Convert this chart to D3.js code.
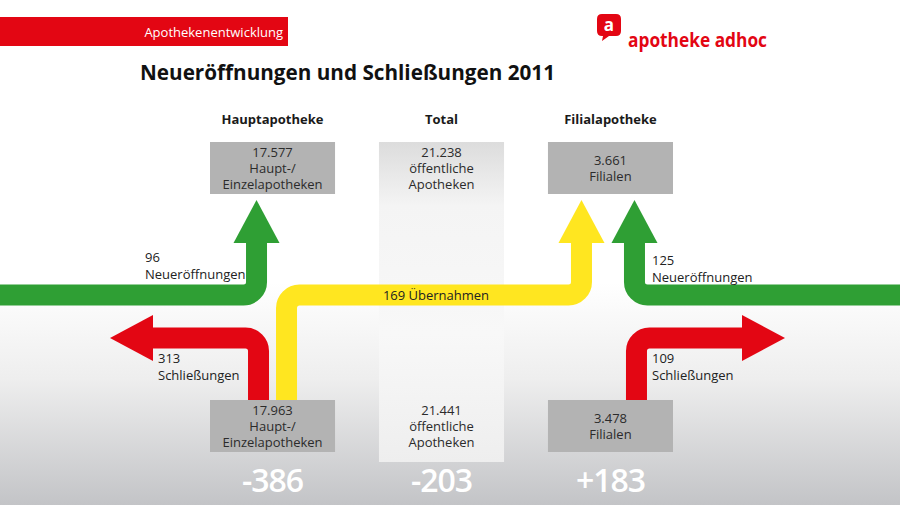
<!DOCTYPE html>
<html>
<head>
<meta charset="utf-8">
<script src="https://cdn.jsdelivr.net/npm/d3@7"></script>
<style>
  body { margin: 0; background: #fff; }
  svg { display: block; font-family: "Open Sans", sans-serif; }
</style>
</head>
<body>
<svg id="chart" width="900" height="505"></svg>
<script>
// data
let columns = ["Hauptapotheke", "Total", "Filialapotheke"];
let startCounts = [17963, 21441, 3478];   // bottom boxes
let endCounts = [17577, 21238, 3661];     // top boxes
let unitLabels = [["Haupt-/", "Einzelapotheken"], ["öffentliche", "Apotheken"], ["Filialen"]];
let flowNames = ["Neueröffnungen", "Schließungen", "Übernahmen", "Neueröffnungen", "Schließungen"];
let flowValues = [96, 313, 169, 125, 109];
let flowKinds = ["open", "close", "takeover", "open", "close"];

let width = 900;
let height = 505;

let de = d3.formatLocale({decimal: ",", thousands: ".", grouping: [3], currency: ["", " €"], minus: "-"});
let fmt = de.format(",d");
let fmtDiff = de.format("+d");

let colors = {open: "#2f9f34", close: "#e30613", takeover: "#ffe620"};

let x = d3.scaleBand()
    .domain(columns)
    .range([210, 673])
    .paddingInner(0.26)
    .paddingOuter(0);

let svg = d3.select("#chart");
let defs = svg.append("defs");

let bg = defs.append("linearGradient").attr("id", "bg")
    .attr("x1", 0).attr("y1", 0).attr("x2", 0).attr("y2", 1);
bg.append("stop").attr("offset", 0.56).attr("stop-color", "#ffffff");
bg.append("stop").attr("offset", 0.75).attr("stop-color", "#eeeeee");
bg.append("stop").attr("offset", 1).attr("stop-color", "#c3c4c7");

let colGrad = defs.append("linearGradient").attr("id", "colgrad")
    .attr("x1", 0).attr("y1", 0).attr("x2", 0).attr("y2", 1);
colGrad.append("stop").attr("offset", 0).attr("stop-color", "#dcdcdc");
colGrad.append("stop").attr("offset", 0.2).attr("stop-color", "#f4f4f4");
colGrad.append("stop").attr("offset", 0.6).attr("stop-color", "#f8f8f8");
colGrad.append("stop").attr("offset", 1).attr("stop-color", "#eeeeee");

svg.append("rect").attr("width", width).attr("height", height).attr("fill", "url(#bg)");

// header
svg.append("rect").attr("x", 0).attr("y", 17).attr("width", 288).attr("height", 29).attr("fill", "#e30613");
svg.append("text").attr("x", 283).attr("y", 37).attr("text-anchor", "end")
    .attr("fill", "#fff").attr("font-size", 13).text("Apothekenentwicklung");

// logo
let logo = svg.append("g").attr("transform", "translate(597,14)");
logo.append("path")
    .attr("d", "M5,0 H19 Q24,0 24,5 V17 Q24,22 19,22 H12 L5,27 L6,22 H5 Q0,22 0,17 V5 Q0,0 5,0 Z")
    .attr("fill", "#e30613");
logo.append("text").attr("x", 12).attr("y", 17).attr("text-anchor", "middle")
    .attr("fill", "#fff").attr("font-size", 17).attr("font-weight", 700).text("a");
svg.append("text").attr("x", 628).attr("y", 47)
    .attr("fill", "#e30613").attr("font-size", 19).attr("font-weight", 700)
    .attr("textLength", 139).attr("lengthAdjust", "spacingAndGlyphs")
    .text("apotheke adhoc");

// title
svg.append("text").attr("x", 140).attr("y", 80)
    .attr("fill", "#111").attr("font-size", 22).attr("font-weight", 700)
    .attr("textLength", 415).attr("lengthAdjust", "spacingAndGlyphs")
    .text("Neueröffnungen und Schließungen 2011");

// total column
svg.append("rect")
    .attr("x", x("Total")).attr("y", 142)
    .attr("width", x.bandwidth()).attr("height", 320)
    .attr("fill", "url(#colgrad)");

// column headers
svg.selectAll(".colhead").data(columns).join("text")
    .attr("class", "colhead")
    .attr("x", d => x(d) + x.bandwidth() / 2)
    .attr("y", 124)
    .attr("text-anchor", "middle")
    .attr("font-size", 13).attr("font-weight", 700).attr("fill", "#1a1a1a")
    .text(d => d);

// boxes
function drawBoxes(counts, y0, cls) {
    let g = svg.selectAll("." + cls).data(columns).join("g")
        .attr("class", cls)
        .attr("transform", d => `translate(${x(d)},${y0})`);
    g.filter(d => d != "Total").append("rect")
        .attr("width", x.bandwidth()).attr("height", 52)
        .attr("fill", "#b3b3b3");
    g.each(function(d, i) {
        let lines = [fmt(counts[i])].concat(unitLabels[i]);
        let top = 26 - (lines.length - 1) * 8 + 5;
        d3.select(this).selectAll("text").data(lines).join("text")
            .attr("x", x.bandwidth() / 2)
            .attr("y", (l, j) => top + j * 16)
            .attr("text-anchor", "middle")
            .attr("font-size", 13).attr("fill", "#2b2b2b")
            .text(l => l);
    });
}
drawBoxes(endCounts, 142, "topbox");
drawBoxes(startCounts, 400, "botbox");

// arrows
let cH = x("Hauptapotheke") + x.bandwidth() / 2;
let cF = x("Filialapotheke") + x.bandwidth() / 2;
let routes = [
    [[0, 295], [cH - 16, 295], [cH - 16, 243]],
    [[cH - 14, 400], [cH - 14, 338], [153, 338]],
    [[cH + 14, 400], [cH + 14, 295], [cF - 29, 295], [cF - 29, 243]],
    [[width, 295], [cF + 24, 295], [cF + 24, 243]],
    [[cF + 26, 400], [cF + 26, 338], [742, 338]]
];
let headLen = 43, headHalf = 23, bandW = 21;

function routePath(pts) {
    let p = d3.path();
    p.moveTo(pts[0][0], pts[0][1]);
    for (let i = 1; i < pts.length - 1; i++) {
        p.arcTo(pts[i][0], pts[i][1], pts[i + 1][0], pts[i + 1][1], 13);
    }
    let last = pts[pts.length - 1];
    p.lineTo(last[0], last[1]);
    return p.toString();
}

function headPath(pts) {
    let a = pts[pts.length - 2], b = pts[pts.length - 1];
    let dx = Math.sign(b[0] - a[0]), dy = Math.sign(b[1] - a[1]);
    let tip = [b[0] + dx * headLen, b[1] + dy * headLen];
    let l = [b[0] - dy * headHalf, b[1] + dx * headHalf];
    let r = [b[0] + dy * headHalf, b[1] - dx * headHalf];
    return `M${l}L${tip}L${r}Z`;
}

let arrows = svg.selectAll(".arrow").data(flowValues).join("g").attr("class", "arrow");
arrows.append("path")
    .attr("d", (d, i) => routePath(routes[i]))
    .attr("fill", "none")
    .attr("stroke", (d, i) => colors[flowKinds[i]])
    .attr("stroke-width", bandW);
arrows.append("path")
    .attr("d", (d, i) => headPath(routes[i]))
    .attr("fill", (d, i) => colors[flowKinds[i]]);

// flow labels
let labelPos = [[145, 262], [158, 363], [436, 300], [652, 265], [652, 363]];
flowValues.forEach((v, i) => {
    let t = svg.append("text")
        .attr("font-size", 13).attr("fill", "#222");
    if (flowKinds[i] == "takeover") {
        t.attr("x", labelPos[i][0]).attr("y", labelPos[i][1])
            .attr("text-anchor", "middle")
            .text(v + " " + flowNames[i]);
    } else {
        t.append("tspan").attr("x", labelPos[i][0]).attr("y", labelPos[i][1]).text(v);
        t.append("tspan").attr("x", labelPos[i][0]).attr("y", labelPos[i][1] + 17).text(flowNames[i]);
    }
});

// differences
svg.selectAll(".diff").data(columns).join("text")
    .attr("class", "diff")
    .attr("x", d => x(d) + x.bandwidth() / 2)
    .attr("y", 492)
    .attr("text-anchor", "middle")
    .attr("font-size", 32).attr("font-weight", 600).attr("fill", "#fff")
    .attr("letter-spacing", -1)
    .text((d, i) => fmtDiff(endCounts[i] - startCounts[i]));
</script>
</body>
</html>
